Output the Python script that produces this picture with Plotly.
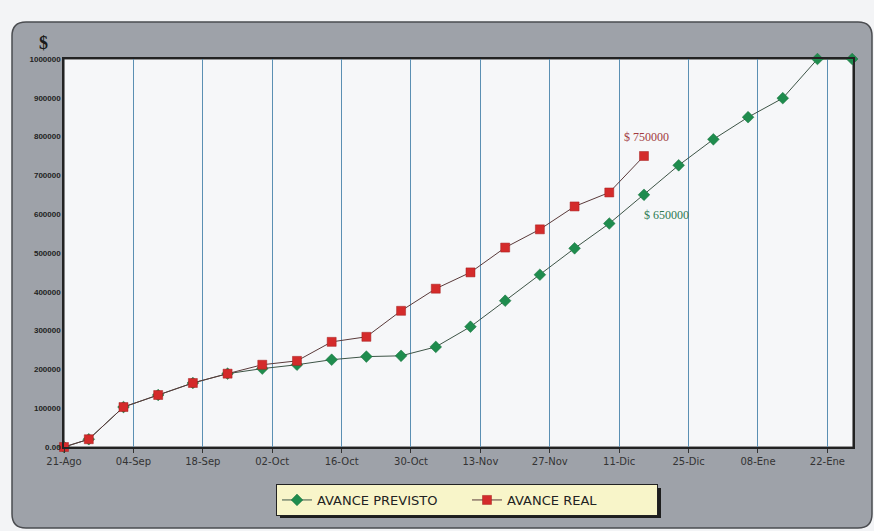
import plotly.graph_objects as go

# --- data -------------------------------------------------------------
fechas_previsto = [
    "2004-08-21", "2004-08-26", "2004-09-02", "2004-09-09", "2004-09-16",
    "2004-09-23", "2004-09-30", "2004-10-07", "2004-10-14", "2004-10-21",
    "2004-10-28", "2004-11-04", "2004-11-11", "2004-11-18", "2004-11-25",
    "2004-12-02", "2004-12-09", "2004-12-16", "2004-12-23", "2004-12-30",
    "2005-01-06", "2005-01-13", "2005-01-20", "2005-01-27",
]
avance_previsto = [
    0, 20000, 103000, 134000, 165000, 189000, 202000, 212000, 225000, 233000,
    235000, 258000, 310000, 377000, 444000, 512000, 576000, 650000, 726000,
    793000, 850000, 899000, 1000000, 1000000,
]

fechas_real = fechas_previsto[:18]
avance_real = [
    0, 20000, 103000, 134000, 165000, 189000, 212000, 222000, 271000, 284000,
    351000, 408000, 450000, 514000, 561000, 620000, 656000, 750000,
]

x_tick_vals = [
    "2004-08-21", "2004-09-04", "2004-09-18", "2004-10-02", "2004-10-16",
    "2004-10-30", "2004-11-13", "2004-11-27", "2004-12-11", "2004-12-25",
    "2005-01-08", "2005-01-22",
]
x_tick_text = [
    "21-Ago", "04-Sep", "18-Sep", "02-Oct", "16-Oct", "30-Oct",
    "13-Nov", "27-Nov", "11-Dic", "25-Dic", "08-Ene", "22-Ene",
]
y_tick_vals = [0, 100000, 200000, 300000, 400000, 500000,
               600000, 700000, 800000, 900000, 1000000]
y_tick_text = ["0.00", "100000", "200000", "300000", "400000", "500000",
               "600000", "700000", "800000", "900000", "1000000"]

# --- geometry helpers (pixel -> paper) ---------------------------------
W, H = 874, 531
L, R, T, B = 64, 853, 59, 447


def px(x):
    return (x - L) / (R - L)


def py(y):
    return (B - y) / (B - T)


def rounded_rect(x0, y0, x1, y1, r):
    return (
        f"M {px(x0 + r)} {py(y0)} L {px(x1 - r)} {py(y0)} "
        f"Q {px(x1)} {py(y0)} {px(x1)} {py(y0 + r)} "
        f"L {px(x1)} {py(y1 - r)} Q {px(x1)} {py(y1)} {px(x1 - r)} {py(y1)} "
        f"L {px(x0 + r)} {py(y1)} Q {px(x0)} {py(y1)} {px(x0)} {py(y1 - r)} "
        f"L {px(x0)} {py(y0 + r)} Q {px(x0)} {py(y0)} {px(x0 + r)} {py(y0)} Z"
    )


fig = go.Figure()

fig.add_trace(go.Scatter(
    x=fechas_previsto, y=avance_previsto, name="AVANCE PREVISTO",
    mode="lines+markers", cliponaxis=False,
    line=dict(color="#3d5446", width=1),
    marker=dict(symbol="diamond", size=9, color="#1f8c4e",
                line=dict(color="#17703d", width=0.5)),
))
fig.add_trace(go.Scatter(
    x=fechas_real, y=avance_real, name="AVANCE REAL",
    mode="lines+markers", cliponaxis=False,
    line=dict(color="#5a3a3a", width=1),
    marker=dict(symbol="square", size=9, color="#d42b2b",
                line=dict(color="#a51f1f", width=0.5)),
))

shapes = [
    # outer grey frame
    dict(type="path", xref="paper", yref="paper", layer="below",
         path=rounded_rect(12, 22, 872, 528, 14),
         fillcolor="#9ea2a9", line=dict(color="#4a4c50", width=1.5)),
    # plot area
    dict(type="rect", xref="paper", yref="paper", layer="below",
         x0=0, y0=0, x1=1, y1=1, fillcolor="#f6f7f9",
         line=dict(color="#3a3a3a", width=1.2)),
    # legend drop shadow
    dict(type="rect", xref="paper", yref="paper", layer="below",
         x0=px(280), x1=px(661), y0=py(518), y1=py(488),
         fillcolor="#1e1e1e", line=dict(width=0)),
]

annotations = [
    dict(text="$", xref="paper", yref="paper", x=px(43), y=py(43),
         xanchor="center", yanchor="middle", showarrow=False,
         font=dict(family="Liberation Serif", size=18, color="#1a1a1a",
                   weight="bold")),
    dict(text="$ 750000", xref="x", yref="y", x="2004-12-11 14:00", y=800000,
         xanchor="left", showarrow=False,
         font=dict(family="Liberation Serif", size=12, color="#a23a3e")),
    dict(text="$ 650000", xref="x", yref="y", x="2004-12-15 12:00", y=598000,
         xanchor="left", showarrow=False,
         font=dict(family="Liberation Serif", size=12, color="#2c7a52")),
]

fig.update_layout(
    width=W, height=H,
    margin=dict(l=L, r=W - R, t=T, b=H - B),
    paper_bgcolor="#f3f4f6",
    plot_bgcolor="rgba(0,0,0,0)",
    showlegend=True,
    legend=dict(
        orientation="h", x=px(467), xanchor="center", y=py(484), yanchor="top",
        bgcolor="#f8f5c9", bordercolor="#222222", borderwidth=1,
        font=dict(family="DejaVu Sans", size=13, color="#222222"),
        itemwidth=30, entrywidth=145,
    ),
    shapes=shapes,
    annotations=annotations,
)

fig.update_xaxes(
    type="date",
    range=["2004-08-21", "2005-01-27 04:00"],
    tickmode="array", tickvals=x_tick_vals, ticktext=x_tick_text,
    showgrid=True, gridcolor="#5b8fb3", gridwidth=1.3,
    ticks="outside", ticklen=4, tickcolor="#333333",
    showline=True, linecolor="#222222", linewidth=1.5, mirror=True,
    tickfont=dict(family="DejaVu Sans", size=10, color="#333333"),
    zeroline=False,
)
fig.update_yaxes(
    range=[0, 1000000],
    tickmode="array", tickvals=y_tick_vals, ticktext=y_tick_text,
    showgrid=False, ticks="",
    showline=True, linecolor="#222222", linewidth=1.5, mirror=True,
    tickfont=dict(family="Liberation Sans", size=8, color="#222222",
                  weight="bold"),
    zeroline=False,
)

fig.write_html("out.html")
